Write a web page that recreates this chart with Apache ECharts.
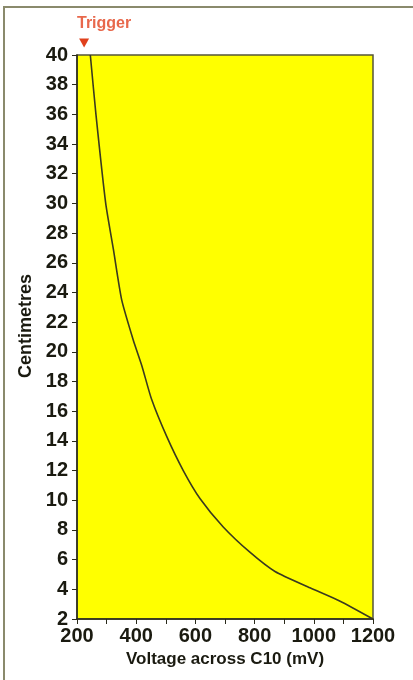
<!DOCTYPE html>
<html>
<head>
<meta charset="utf-8">
<title>Centimetres vs voltage across C10</title>
<script src="https://cdn.jsdelivr.net/npm/echarts@6/dist/echarts.min.js"></script>
<style>
    html, body { margin: 0; padding: 0; background: #fff; }
    #chart { width: 413px; height: 680px; }
</style>
</head>
<body>
<div id="chart"></div>
<script>
// values
var voltage = [245, 264, 297, 323, 351, 390, 420, 452, 503, 559, 616, 694, 784, 869, 987, 1089, 1200];
var centimetres = [40, 36, 30, 26.9, 23.5, 20.8, 19, 16.8, 14.3, 12, 10.1, 8.2, 6.5, 5.2, 4.1, 3.2, 2];
var triggerPoint = [224, 40];

var chart = echarts.init(document.getElementById('chart'));

var tickFont = {
    color: '#1a1a10',
    fontFamily: '"Liberation Sans Narrow", "Liberation Sans", Arial, sans-serif',
    fontWeight: 'bold',
    fontSize: 20
};

var option = {
    animation: false,
    backgroundColor: '#fff',
    // outer frame of the figure
    graphic: [
        {
            type: 'rect',
            shape: { x: 4, y: 7, width: 440, height: 700 },
            style: { fill: 'none', stroke: '#8a8a6c', lineWidth: 2 }
        }
    ],
    grid: {
        left: 77,
        right: 40,
        top: 55,
        bottom: 61,
        show: true,
        backgroundColor: '#ffff00',
        borderColor: '#55553a',
        borderWidth: 1.5
    },
    xAxis: {
        type: 'value',
        min: 200,
        max: 1200,
        interval: 100,
        name: 'Voltage across C10 (mV)',
        nameLocation: 'middle',
        nameGap: 31,
        nameTextStyle: {
            color: '#1a1a10',
            fontFamily: '"Liberation Sans", Arial, sans-serif',
            fontWeight: 'bold',
            fontSize: 17
        },
        axisLine: { show: true, lineStyle: { color: '#2a2a1a', width: 1.5 } },
        axisTick: { show: true, length: 5, lineStyle: { color: '#2a2a1a' } },
        splitLine: { show: false },
        axisLabel: Object.assign({
            margin: 7,
            formatter: function (v) { return v % 200 === 0 ? v : ''; }
        }, tickFont)
    },
    yAxis: {
        type: 'value',
        min: 2,
        max: 40,
        interval: 2,
        name: 'Centimetres',
        nameLocation: 'middle',
        nameGap: 41,
        nameTextStyle: {
            color: '#1a1a10',
            fontFamily: '"Liberation Sans", Arial, sans-serif',
            fontWeight: 'bold',
            fontSize: 18,
            padding: [0, 0, 0, 22]
        },
        axisLine: { show: true, lineStyle: { color: '#2a2a1a', width: 1.5 } },
        axisTick: { show: true, length: 5, lineStyle: { color: '#2a2a1a' } },
        splitLine: { show: false },
        axisLabel: Object.assign({ margin: 9 }, tickFont)
    },
    series: [
        {
            type: 'line',
            data: voltage.map(function (v, i) { return [v, centimetres[i]]; }),
            symbol: 'none',
            smooth: 0.2,
            lineStyle: { color: '#3a3a20', width: 1.6 },
            markPoint: {
                symbol: 'triangle',
                symbolSize: [10, 9],
                symbolRotate: 180,
                symbolOffset: [0, -12],
                itemStyle: { color: '#e0401c' },
                label: {
                    show: true,
                    formatter: 'Trigger',
                    position: 'top',
                    offset: [20, -2],
                    color: '#e8684c',
                    fontFamily: '"Liberation Sans", Arial, sans-serif',
                    fontWeight: 'bold',
                    fontSize: 16
                },
                data: [{ coord: triggerPoint }]
            }
        }
    ]
};

chart.setOption(option);
</script>
</body>
</html>
